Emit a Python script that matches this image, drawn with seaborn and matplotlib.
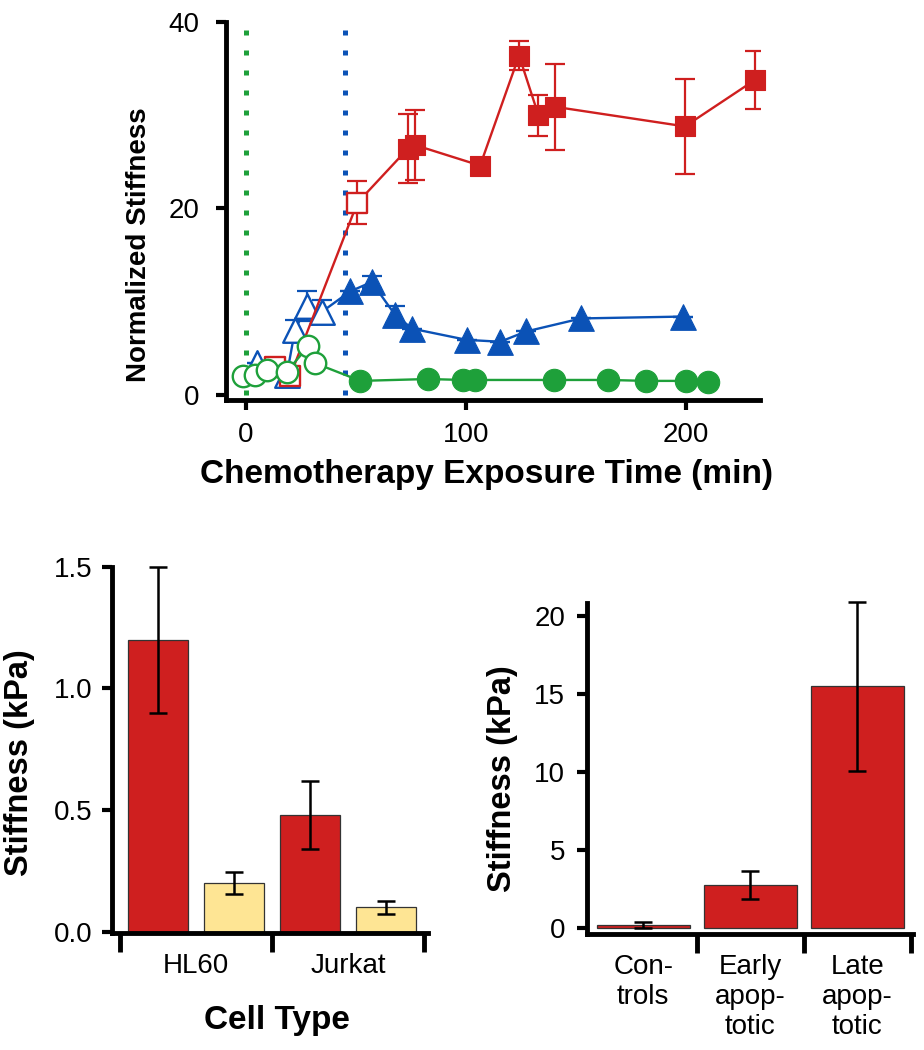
import matplotlib
matplotlib.use("Agg")
import matplotlib.pyplot as plt
import seaborn as sns
import pandas as pd

# ---------------- Top panel: normalized stiffness vs time ----------------
red_time = [13, 20, 50.6, 73.5, 76.8, 106.4, 124.1, 132.9, 140.5, 199.5, 231.4]
red_val = [3.0, 2.0, 20.6, 26.4, 26.8, 24.6, 36.4, 30.0, 30.9, 28.8, 33.8]
red_err = [1.0, 0.0, 2.3, 3.7, 3.8, 0.0, 1.6, 2.2, 4.6, 5.1, 3.1]
red_open = [True, True, True, False, False, False, False, False, False, False, False]

blue_time = [4.8, 18.5, 22.3, 27.6, 34.4, 47.3, 57.1, 67.7, 75.5, 100.3, 115.5, 127.3, 152.3, 198.5]
blue_val = [3.4, 2.1, 7.0, 9.5, 8.9, 11.1, 12.1, 8.6, 7.1, 5.9, 5.7, 6.8, 8.2, 8.4]
blue_err = [0.0, 0.0, 1.0, 1.6, 1.3, 0.0, 0.6, 0.9, 0.0, 0.0, 0.0, 0.0, 0.0, 0.0]
blue_open = [True, True, True, True, True, False, False, False, False, False, False, False, False, False]

green_time = [-1.2, 4.1, 9.7, 18.5, 28.3, 31.4, 52.0, 82.5, 98.8, 104.2, 140.0, 164.5, 182.0, 200.0, 210.0]
green_val = [2.0, 2.1, 2.7, 2.5, 5.2, 3.4, 1.5, 1.7, 1.6, 1.6, 1.6, 1.6, 1.5, 1.5, 1.4]
green_open = [True, True, True, True, True, True, False, False, False, False, False, False, False, False, False]

event_times = [0, 45]
top_xticks = [0, 100, 200]
top_yticks = [0, 20, 40]

# ---------------- Bottom left: cell types ----------------
cell_types = ["HL60", "Jurkat"]
groups = ["Treated", "Untreated"]
treated_kpa = [1.20, 0.48]
treated_err = [0.30, 0.14]
untreated_kpa = [0.20, 0.10]
untreated_err = [0.045, 0.028]

# ---------------- Bottom right: apoptosis stages ----------------
stages = ["Con-\ntrols", "Early\napop-\ntotic", "Late\napop-\ntotic"]
stage_kpa = [0.2, 2.75, 15.5]
stage_err = [0.18, 0.9, 5.4]

RED = "#cf1f1f"
BLUE = "#0b52b6"
GREEN = "#1ea03a"
YELLOW = "#fee594"
EVENT_COLORS = [GREEN, BLUE]

sns.set_style("ticks")
plt.rcParams["font.family"] = ["Liberation Sans", "DejaVu Sans"]
plt.rcParams["text.color"] = "black"
plt.rcParams["axes.labelcolor"] = "black"
plt.rcParams["xtick.color"] = "black"
plt.rcParams["ytick.color"] = "black"
plt.rcParams["xtick.labelcolor"] = "black"
plt.rcParams["ytick.labelcolor"] = "black"

W, H = 924, 1050
fig = plt.figure(figsize=(W / 100, H / 100), dpi=100)


def px_axes(left, right, top, bottom):
    return fig.add_axes([left / W, 1 - bottom / H, (right - left) / W, (bottom - top) / H])


ax1 = px_axes(226, 760, 22, 400)
ax2 = px_axes(111.7, 427.7, 566.7, 933.3)
ax3 = px_axes(587.3, 913.3, 603.3, 934.3)

SPINE_W = 3.0

# ---- top panel ----
ax1.set_xlim(-9.1, 233.6)
ax1.set_ylim(-0.55, 40)
y0 = (0 + 0.55) / 40.55
for t, c in zip(event_times, EVENT_COLORS):
    ax1.axvline(t, ymin=y0, ymax=0.985, color=c, lw=3.6, ls=(0, (1, 3)), zorder=1)

series = [
    (blue_time, blue_val, blue_err, blue_open, BLUE, "^", 340, 3),
    (red_time, red_val, red_err, red_open, RED, "s", 215, 4),
    (green_time, green_val, None, green_open, GREEN, "o", 260, 5),
]
for t, v, e, op, c, m, s, z in series:
    df = pd.DataFrame({"t": t, "v": v, "open": op})
    sns.lineplot(data=df, x="t", y="v", color=c, lw=1.7, sort=False,
                 estimator=None, ax=ax1, zorder=z)
    if e is not None:
        ax1.errorbar(t, v, yerr=e, fmt="none", ecolor=c, elinewidth=1.6,
                     capsize=7, capthick=1.6, zorder=z)
    d_open = df[df["open"]]
    d_fill = df[~df["open"]]
    sns.scatterplot(data=d_fill, x="t", y="v", marker=m, s=s, color=c,
                    edgecolor=c, linewidth=0.8, ax=ax1, zorder=z + 0.1, clip_on=False)
    sns.scatterplot(data=d_open, x="t", y="v", marker=m, s=s * 0.92, color="white",
                    edgecolor=c, linewidth=1.7, ax=ax1, zorder=z + 0.1, clip_on=False)

ax1.set_xticks(top_xticks)
ax1.set_yticks(top_yticks)
ax1.tick_params(axis="both", length=7, width=SPINE_W, labelsize=20, color="black")
ax1.tick_params(axis="y", pad=12)
ax1.tick_params(axis="x", pad=9)
ax1.set_xlabel("Chemotherapy Exposure Time (min)", fontsize=24, fontweight="bold",
               va="center", ha="center")
ax1.xaxis.set_label_coords((486 - 226) / 534, -(475 - 400) / 378)
ax1.set_ylabel("Normalized Stiffness", fontsize=20, fontweight="bold",
               va="center", ha="center")
ax1.yaxis.set_label_coords((139 - 226) / 534, (400 - 245) / 378)

# ---- bottom left ----
df2 = pd.DataFrame({
    "cell": cell_types * 2,
    "group": [groups[0]] * 2 + [groups[1]] * 2,
    "kpa": treated_kpa + untreated_kpa,
})
sns.barplot(data=df2, x="cell", y="kpa", hue="group", palette=[RED, YELLOW],
            width=1.0, gap=0.21, saturation=1, errorbar=None, edgecolor="#333333",
            linewidth=0.9, legend=False, ax=ax2)
for cont, errs in zip(ax2.containers, [treated_err, untreated_err]):
    for bar, e in zip(cont, errs):
        ax2.errorbar(bar.get_x() + bar.get_width() / 2, bar.get_height(), yerr=e,
                     fmt="none", ecolor="black", elinewidth=1.8, capsize=6.5,
                     capthick=1.8, zorder=5, clip_on=False)
ax2.set_xlim(-0.557, 1.522)
ax2.set_ylim(-0.0066, 1.5)
ax2.set_yticks([0, 0.5, 1.0, 1.5])
ax2.set_yticklabels(["0.0", "0.5", "1.0", "1.5"])
ax2.set_xticks([-0.5, 0.5, 1.5], minor=True)
ax2.tick_params(axis="x", which="major", length=0, labelsize=20, pad=14)
ax2.tick_params(axis="x", which="minor", length=14, width=SPINE_W + 0.5, color="black")
ax2.tick_params(axis="y", length=7, width=SPINE_W, labelsize=20, pad=7, color="black")
ax2.set_xlabel("Cell Type", fontsize=24, fontweight="bold", va="center", ha="center")
ax2.xaxis.set_label_coords((277 - 111.7) / 316, -(1020 - 933.3) / 366.6)
ax2.set_ylabel("Stiffness (kPa)", fontsize=23.5, fontweight="bold", va="center", ha="center")
ax2.yaxis.set_label_coords((20 - 111.7) / 316, (933.3 - 763) / 366.6)

# ---- bottom right ----
df3 = pd.DataFrame({"stage": stages, "kpa": stage_kpa})
sns.barplot(data=df3, x="stage", y="kpa", color=RED, saturation=1, width=0.87,
            errorbar=None, edgecolor="#333333", linewidth=0.9, ax=ax3)
for bar, e in zip(ax3.patches, stage_err):
    ax3.errorbar(bar.get_x() + bar.get_width() / 2, bar.get_height(), yerr=e,
                 fmt="none", ecolor="black", elinewidth=1.8, capsize=6.5,
                 capthick=1.8, zorder=5, clip_on=False)
ax3.set_xlim(-0.523, 2.523)
ax3.set_ylim(-0.38, 20.8)
ax3.set_yticks([0, 5, 10, 15, 20])
ax3.set_xticks([0.5, 1.5, 2.5], minor=True)
ax3.tick_params(axis="x", which="major", length=0, labelsize=20, pad=14)
ax3.tick_params(axis="x", which="minor", length=14, width=SPINE_W + 0.5, color="black")
ax3.tick_params(axis="y", length=7, width=SPINE_W, labelsize=20, pad=9, color="black")
ax3.set_xlabel("")
ax3.set_ylabel("Stiffness (kPa)", fontsize=23.5, fontweight="bold", va="center", ha="center")
ax3.yaxis.set_label_coords((503 - 587.3) / 326, (934.3 - 779) / 331)

for ax in (ax1, ax2, ax3):
    sns.despine(ax=ax)
    for sp in ("left", "bottom"):
        ax.spines[sp].set_linewidth(SPINE_W + 0.5)
        ax.spines[sp].set_color("black")
    ax.set_facecolor("white")

fig.savefig("out.png", dpi=100, facecolor="white")
